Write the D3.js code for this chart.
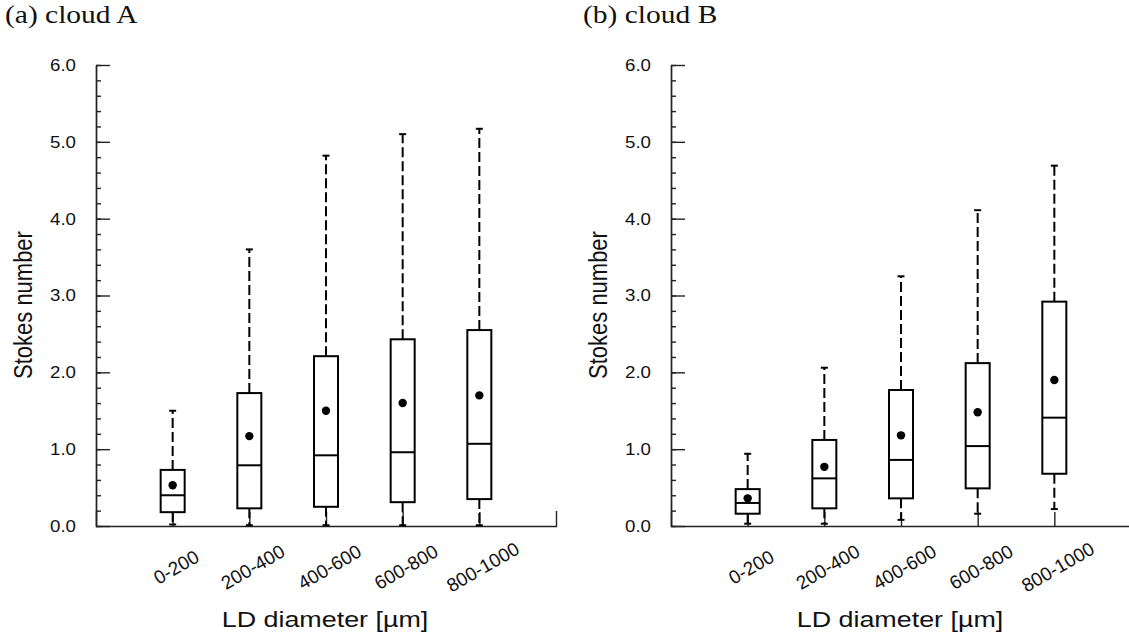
<!DOCTYPE html>
<html>
<head>
<meta charset="utf-8">
<script src="https://cdn.jsdelivr.net/npm/d3@7"></script>
<style>
  html, body { margin: 0; padding: 0; background: #fff; }
  svg { display: block; }
</style>
</head>
<body>
<svg id="chart" width="1129" height="644"></svg>
<script>
// ---------- data ----------
const categories = ["0-200", "200-400", "400-600", "600-800", "800-1000"];
const yTickLabels = ["0.0", "1.0", "2.0", "3.0", "4.0", "5.0", "6.0"];

const cloudA_min    = [0.02, 0.01, 0.01, 0.01, 0.01];
const cloudA_q1     = [0.18, 0.23, 0.25, 0.31, 0.35];
const cloudA_median = [0.40, 0.79, 0.92, 0.96, 1.07];
const cloudA_q3     = [0.73, 1.73, 2.21, 2.43, 2.55];
const cloudA_max    = [1.50, 3.60, 4.82, 5.10, 5.17];
const cloudA_mean   = [0.53, 1.17, 1.50, 1.60, 1.70];

const cloudB_min    = [0.03, 0.03, 0.08, 0.16, 0.22];
const cloudB_q1     = [0.16, 0.23, 0.36, 0.49, 0.68];
const cloudB_median = [0.30, 0.62, 0.86, 1.04, 1.41];
const cloudB_q3     = [0.48, 1.12, 1.77, 2.12, 2.92];
const cloudB_max    = [0.94, 2.06, 3.25, 4.11, 4.69];
const cloudB_mean   = [0.36, 0.77, 1.18, 1.48, 1.90];

const panels = [
  { title: "(a) cloud A", min: cloudA_min, q1: cloudA_q1, med: cloudA_median, q3: cloudA_q3, max: cloudA_max, mean: cloudA_mean },
  { title: "(b) cloud B", min: cloudB_min, q1: cloudB_q1, med: cloudB_median, q3: cloudB_q3, max: cloudB_max, mean: cloudB_mean }
];

// ---------- layout ----------
const svg = d3.select("#chart");
const plotTop = 65, plotBottom = 526, plotWidth = 460;
const panelX = [96, 671];
const titleX = [5, 583];
const boxW = 24, capW = 7;
const axisColor = "#222";
const sansFont = "'Liberation Sans', Arial, Helvetica, sans-serif";
const serifFont = "'Liberation Serif', 'Times New Roman', serif";

const y = d3.scaleLinear().domain([0, 6]).range([plotBottom, plotTop]);

panels.forEach((p, pi) => {
  const x0 = panelX[pi];
  const g = svg.append("g");
  const x = d3.scalePoint().domain(categories).range([x0, x0 + plotWidth]).padding(1);

  // panel title
  g.append("text")
    .attr("transform", `translate(${titleX[pi]},23) scale(1.18,1)`)
    .attr("font-family", serifFont)
    .attr("font-size", 25)
    .attr("fill", "#111")
    .text(p.title);

  // y axis minor ticks
  const yMinor = d3.axisLeft(y).tickValues(d3.range(0, 6.0001, 0.2)).tickSizeInner(-5).tickSizeOuter(0).tickFormat("");
  g.append("g").attr("transform", `translate(${x0},0)`).call(yMinor)
    .call(s => s.selectAll("line,path").attr("stroke", axisColor).attr("stroke-width", 1.4));

  // y axis major ticks + labels
  const yMajor = d3.axisLeft(y).tickValues(d3.range(0, 7, 1)).tickSizeInner(-14).tickSizeOuter(0)
    .tickFormat((d, i) => yTickLabels[i]);
  const ya = g.append("g").attr("transform", `translate(${x0},0)`).call(yMajor);
  ya.selectAll("line,path").attr("stroke", axisColor).attr("stroke-width", 1.4);
  ya.selectAll("text")
    .attr("x", 0)
    .attr("transform", "translate(-20,0) scale(1.1,1)")
    .attr("font-family", sansFont)
    .attr("font-size", 17)
    .attr("fill", "#111");

  // x axis
  const xAxis = d3.axisBottom(x).tickSizeInner(-14).tickSizeOuter(-15).tickFormat("");
  const xa = g.append("g").attr("transform", `translate(0,${plotBottom})`).call(xAxis);
  xa.selectAll("line,path").attr("stroke", axisColor).attr("stroke-width", 1.4);

  // x tick labels
  g.selectAll("text.xl").data(categories).enter().append("text")
    .attr("class", "xl")
    .attr("transform", d => `translate(${x(d) + 3.5},567) rotate(-30)`)
    .attr("text-anchor", "middle")
    .attr("dy", "0.35em")
    .attr("font-family", sansFont)
    .attr("font-size", 19)
    .attr("fill", "#111")
    .text(d => d);

  // axis titles
  g.append("text")
    .attr("transform", `translate(${x0 + plotWidth / 2 - 1},627) scale(1.25,1)`)
    .attr("text-anchor", "middle")
    .attr("font-family", sansFont)
    .attr("font-size", 21.5)
    .attr("fill", "#111")
    .text("LD diameter [\u00B5m]");

  g.append("text")
    .attr("transform", `translate(${x0 - 64},305) scale(1.15,1) rotate(-90)`)
    .attr("text-anchor", "middle")
    .attr("font-family", sansFont)
    .attr("font-size", 22)
    .attr("fill", "#111")
    .text("Stokes number");

  // boxes
  const items = categories.map((c, i) => ({
    c, min: p.min[i], q1: p.q1[i], med: p.med[i], q3: p.q3[i], max: p.max[i], mean: p.mean[i]
  }));
  const bx = g.selectAll("g.box").data(items).enter().append("g").attr("class", "box");

  // whiskers (dashed)
  bx.append("line")
    .attr("x1", d => x(d.c)).attr("x2", d => x(d.c))
    .attr("y1", d => y(d.q3)).attr("y2", d => y(d.max))
    .attr("stroke", "#000").attr("stroke-width", 2).attr("stroke-dasharray", "10,4");
  bx.append("line")
    .attr("x1", d => x(d.c)).attr("x2", d => x(d.c))
    .attr("y1", d => y(d.q1)).attr("y2", d => y(d.min))
    .attr("stroke", "#000").attr("stroke-width", 2).attr("stroke-dasharray", "10,4");
  // caps
  bx.append("line")
    .attr("x1", d => x(d.c) - capW / 2).attr("x2", d => x(d.c) + capW / 2)
    .attr("y1", d => y(d.max)).attr("y2", d => y(d.max))
    .attr("stroke", "#000").attr("stroke-width", 2);
  bx.append("line")
    .attr("x1", d => x(d.c) - capW / 2).attr("x2", d => x(d.c) + capW / 2)
    .attr("y1", d => y(d.min)).attr("y2", d => y(d.min))
    .attr("stroke", "#000").attr("stroke-width", 2);
  // box
  bx.append("rect")
    .attr("x", d => x(d.c) - boxW / 2)
    .attr("width", boxW)
    .attr("y", d => y(d.q3))
    .attr("height", d => y(d.q1) - y(d.q3))
    .attr("fill", "#fff").attr("stroke", "#000").attr("stroke-width", 2);
  // median
  bx.append("line")
    .attr("x1", d => x(d.c) - boxW / 2).attr("x2", d => x(d.c) + boxW / 2)
    .attr("y1", d => y(d.med)).attr("y2", d => y(d.med))
    .attr("stroke", "#000").attr("stroke-width", 2);
  // mean
  bx.append("circle")
    .attr("cx", d => x(d.c)).attr("cy", d => y(d.mean)).attr("r", 4.2)
    .attr("fill", "#000");
});
</script>
</body>
</html>
